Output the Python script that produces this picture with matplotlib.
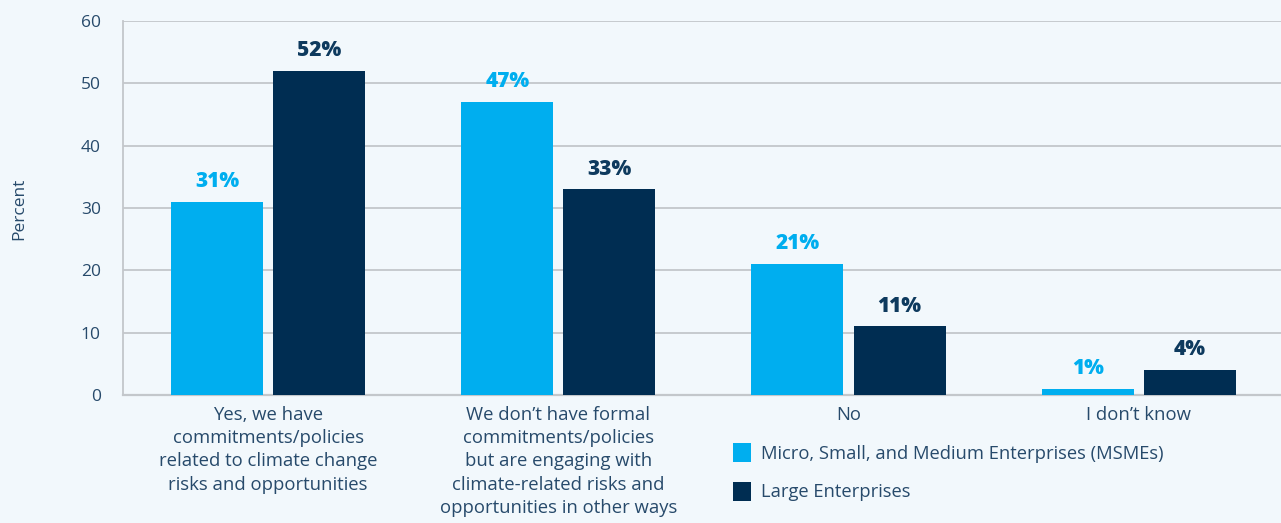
import numpy as np
import matplotlib
matplotlib.use('Agg')
from matplotlib import pyplot as plt
from matplotlib.patches import Patch

categories = [
    'Yes, we have\ncommitments/policies\nrelated to climate change\nrisks and opportunities',
    'We don\u2019t have formal\ncommitments/policies\nbut are engaging with\nclimate-related risks and\nopportunities in other ways',
    'No',
    'I don\u2019t know',
]
msme = [31, 47, 21, 1]
large = [52, 33, 11, 4]
series_names = ['Micro, Small, and Medium Enterprises (MSMEs)', 'Large Enterprises']
yticks = [0, 10, 20, 30, 40, 50, 60]

bg = '#f2f8fc'
c_msme = '#00aeef'
c_large = '#002d52'
c_text = '#274a6b'
c_grid = '#c3c7cb'

plt.rcParams['font.family'] = ['Open Sans', 'DejaVu Sans']

fig = plt.figure(figsize=(12.81, 5.23), dpi=100, facecolor=bg)
ax = fig.add_axes([0.096, 0.2447, 0.904, 0.7153], facecolor=bg)

x = np.arange(len(categories))
w = 0.317
off = 0.176
b1 = ax.bar(x - off, msme, w, color=c_msme, zorder=3)
b2 = ax.bar(x + off, large, w, color=c_large, zorder=3)

# value labels above each bar
for bars, vals, col in [(b1, msme, c_msme), (b2, large, '#0e3a5e')]:
    for r, v in zip(bars, vals):
        ax.annotate(f'{v}%', (r.get_x() + r.get_width() / 2, v),
                    xytext=(0, 7), textcoords='offset points',
                    ha='center', va='bottom', fontsize=15,
                    fontweight='heavy', color=col)

ax.set_ylim(0, 60)
ax.set_xlim(-0.5, 3.49)
ax.set_yticks(yticks)
ax.set_yticklabels([str(t) for t in yticks], fontsize=12.5, color=c_text)
ax.set_xticks(x)
ax.set_xticklabels(categories, fontsize=13.3, color=c_text, linespacing=1.37)
ax.tick_params(axis='x', length=0, pad=8)
ax.tick_params(axis='y', length=0, pad=16)
ax.yaxis.grid(True, color=c_grid, linewidth=1.3, zorder=0)
ax.set_axisbelow(True)

for s in ['top', 'right']:
    ax.spines[s].set_visible(False)
ax.spines['left'].set_color(c_grid)
ax.spines['left'].set_linewidth(1.3)
ax.spines['bottom'].set_color(c_grid)
ax.spines['bottom'].set_linewidth(1.6)

fig.text(0.015, 0.6, 'Percent', rotation=90, ha='center', va='center',
         fontsize=12.5, color=c_text)

handles = [Patch(facecolor=c_msme), Patch(facecolor=c_large)]
fig.legend(handles, series_names, loc='upper left',
           bbox_to_anchor=(0.5665, 0.167), frameon=False,
           fontsize=13.2, labelcolor=c_text, handlelength=1.0, handleheight=1.2,
           handletextpad=0.55, labelspacing=1.05, borderaxespad=0)

plt.savefig('out.png', dpi=100, facecolor=bg)
